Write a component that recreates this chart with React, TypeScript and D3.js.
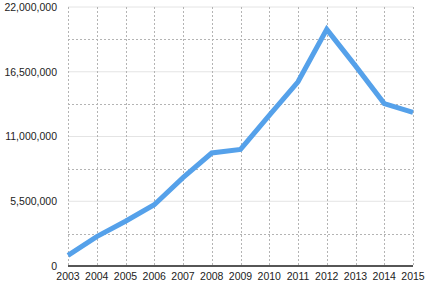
import React from "react";
import * as d3 from "d3";

const years = [2003, 2004, 2005, 2006, 2007, 2008, 2009, 2010, 2011, 2012, 2013, 2014, 2015];
const values = [900000, 2500000, 3800000, 5200000, 7500000, 9600000, 9900000, 12800000, 15650000, 20100000, 17000000, 13800000, 13050000];
const majorTicks = [0, 5500000, 11000000, 16500000, 22000000];
const minorTicks = [2750000, 8250000, 13750000, 19250000];

const W = 430;
const H = 285;
const M = { left: 68, right: 17, top: 7, bottom: 19 };

export default function App() {
  const x = d3.scaleLinear().domain([2003, 2015]).range([M.left, W - M.right]);
  const y = d3.scaleLinear().domain([0, 22000000]).range([H - M.bottom, M.top]);
  const fmt = d3.format(",");
  const line = d3
    .line<number>()
    .x((_, i) => x(years[i]))
    .y((d) => y(d));
  const font = "'Liberation Sans', Arial, Helvetica, sans-serif";
  return (
    <svg
      width={W}
      height={H}
      style={{ position: "absolute", left: 0, top: 0, display: "block" }}
      fontFamily={font}
    >
      <rect width={W} height={H} fill="#fff" />
      {majorTicks.map((t) => (
        <line key={"mj" + t} x1={M.left} x2={W - M.right} y1={y(t)} y2={y(t)} stroke="#e4e4e4" strokeWidth={1} />
      ))}
      {minorTicks.map((t) => (
        <line
          key={"mn" + t}
          x1={M.left}
          x2={W - M.right}
          y1={Math.round(y(t)) + 0.5}
          y2={Math.round(y(t)) + 0.5}
          stroke="#b4b4b4"
          strokeWidth={1}
          strokeDasharray="2,2"
        />
      ))}
      {years.map((yr) => (
        <line
          key={"v" + yr}
          x1={Math.round(x(yr)) + 0.5}
          x2={Math.round(x(yr)) + 0.5}
          y1={M.top}
          y2={H - M.bottom}
          stroke="#b4b4b4"
          strokeWidth={1}
          strokeDasharray="2,2"
        />
      ))}
      <line x1={M.left} x2={W - M.right} y1={H - M.bottom} y2={H - M.bottom} stroke="#222" strokeWidth={1.5} />
      <path d={line(values) || ""} fill="none" stroke="#55a1ea" strokeWidth={5} strokeLinejoin="miter" strokeLinecap="butt" />
      {majorTicks.map((t) => (
        <text key={"yl" + t} x={57} y={y(t)} dy="0.36em" textAnchor="end" fontSize={10.5} fill="#222">
          {fmt(t)}
        </text>
      ))}
      {years.map((yr) => (
        <text key={"xl" + yr} x={x(yr)} y={280} textAnchor="middle" fontSize={10.5} fill="#222">
          {yr}
        </text>
      ))}
    </svg>
  );
}
